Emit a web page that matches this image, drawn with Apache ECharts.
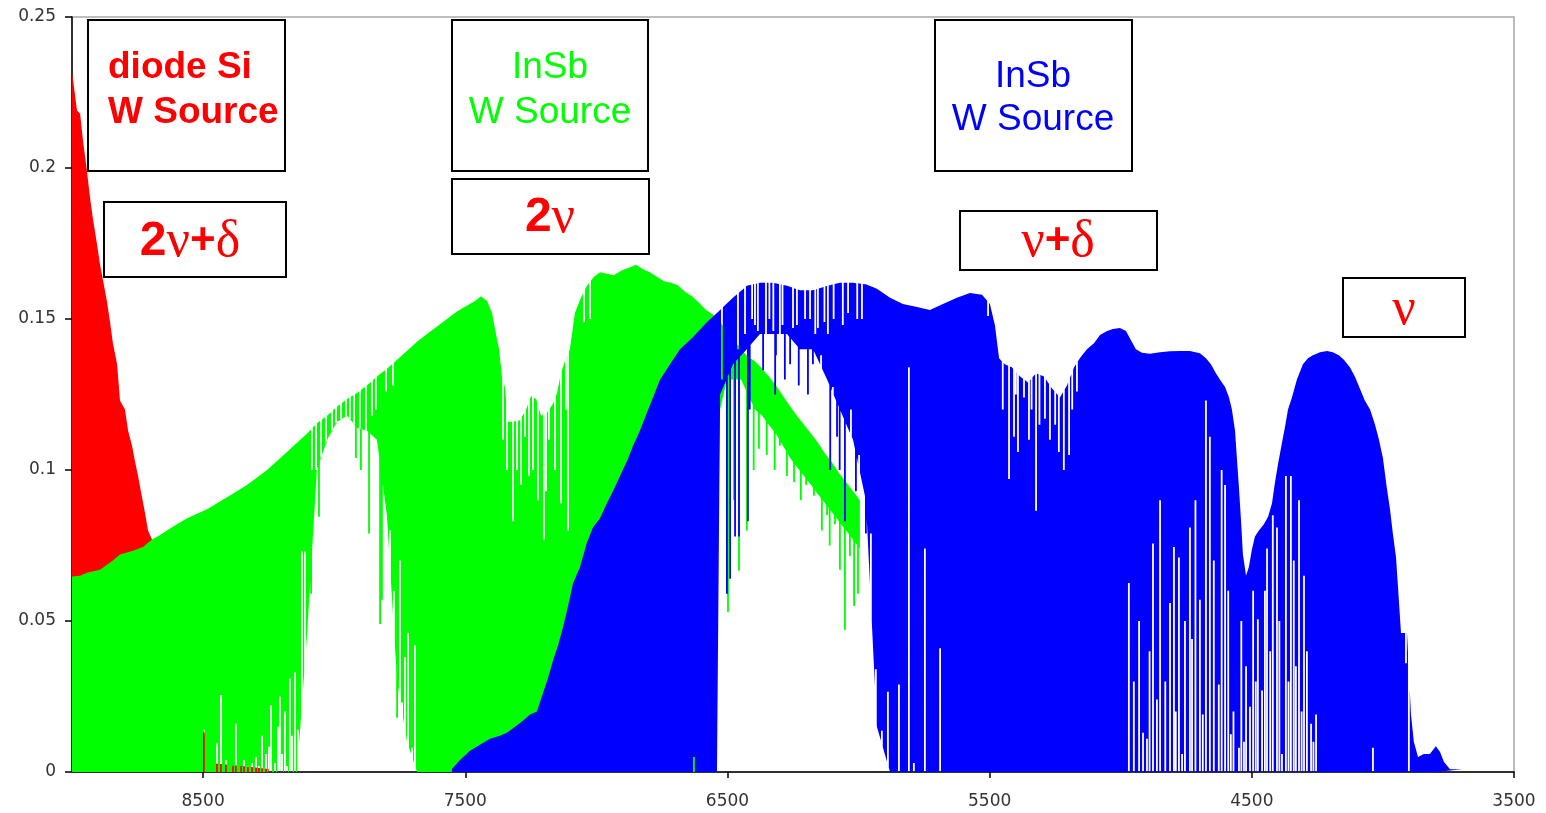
<!DOCTYPE html>
<html>
<head>
<meta charset="utf-8">
<title>Spectres InSb / diode Si</title>
<script src="https://cdn.jsdelivr.net/npm/echarts@6/dist/echarts.min.js"></script>
<style>
  html, body { margin: 0; padding: 0; background: #fff; }
  #chart { width: 1546px; height: 813px; }
</style>
</head>
<body>
<div id="chart"></div>
<script>
// Wavenumber axis ticks (cm-1) and intensity ticks
const xTickValues = [8500, 7500, 6500, 5500, 4500, 3500];
const yTickValues = [0, 0.05, 0.1, 0.15, 0.2, 0.25];

// ---- diode Si, W source (red) ----
const redWn = [9000, 8981, 8969, 8958, 8943, 8931, 8920, 8905, 8893, 8882, 8867, 8855, 8844, 8828, 8817, 8798, 8786, 8771, 8760, 8748, 8733, 8722, 8710, 8695, 8680, 8600, 8530, 8497, 8470, 8350, 8250];
const redTop = [0.232, 0.219, 0.218, 0.209, 0.199, 0.190, 0.183, 0.175, 0.168, 0.163, 0.156, 0.149, 0.142, 0.135, 0.123, 0.120, 0.113, 0.108, 0.103, 0.098, 0.091, 0.086, 0.080, 0.077, 0.004, 0.003, 0.004, 0.014, 0.003, 0.002, 0.001];

// ---- InSb, W source, first window (green) ----
const greenWn = [9000, 8969, 8943, 8893, 8844, 8817, 8767, 8729, 8695, 8664, 8638, 8600, 8561, 8523, 8485, 8447, 8409, 8371, 8333, 8294, 8256, 8218, 8180, 8142, 8104, 8066, 8027, 7989, 7951, 7913, 7875, 7837, 7799, 7760, 7722, 7684, 7646, 7608, 7570, 7532, 7493, 7463, 7440, 7417, 7398, 7383, 7371, 7360, 7349, 7337, 7318, 7291, 7268, 7249, 7230, 7211, 7188, 7165, 7150, 7135, 7120, 7101, 7082, 7059, 7036, 7009, 6986, 6960, 6933, 6906, 6876, 6849, 6822, 6796, 6769, 6742, 6715, 6689, 6662, 6635, 6609, 6582, 6555, 6528, 6502, 6475, 6448, 6422, 6395, 6368, 6342, 6315, 6288, 6261, 6235, 6208, 6181, 6155, 6128, 6101, 6075, 6048, 6021, 5995];
const greenTop = [0.0647, 0.065, 0.066, 0.067, 0.070, 0.072, 0.0733, 0.0745, 0.077, 0.0785, 0.080, 0.082, 0.084, 0.0855, 0.087, 0.089, 0.091, 0.093, 0.095, 0.0975, 0.100, 0.103, 0.106, 0.109, 0.112, 0.1155, 0.118, 0.121, 0.1235, 0.1255, 0.128, 0.131, 0.1335, 0.1365, 0.1395, 0.1425, 0.145, 0.1475, 0.150, 0.1525, 0.1545, 0.156, 0.1575, 0.156, 0.152, 0.145, 0.140, 0.131, 0.1275, 0.116, 0.116, 0.1165, 0.120, 0.1245, 0.1235, 0.118, 0.119, 0.122, 0.1255, 0.132, 0.136, 0.140, 0.152, 0.157, 0.161, 0.164, 0.1655, 0.165, 0.1645, 0.166, 0.167, 0.168, 0.1665, 0.1655, 0.164, 0.1625, 0.162, 0.1612, 0.159, 0.1575, 0.1555, 0.153, 0.1515, 0.149, 0.146, 0.143, 0.140, 0.1375, 0.136, 0.1335, 0.131, 0.128, 0.1245, 0.121, 0.118, 0.115, 0.112, 0.109, 0.1055, 0.1025, 0.099, 0.096, 0.093, 0.090];
const greenFloor = [0, 0, 0, 0, 0, 0, 0, 0, 0, 0, 0, 0, 0, 0, 0, 0, 0, 0, 0, 0, 0, 0, 0, 0, 0.045, 0.100, 0.110, 0.116, 0.118, 0.114, 0.113, 0.110, 0.085, 0.03, 0.01, 0, 0, 0, 0, 0, 0, 0, 0, 0, 0, 0, 0, 0, 0, 0, 0, 0, 0, 0, 0, 0, 0, 0, 0, 0, 0, 0, 0, 0, 0, 0, 0, 0, 0, 0, 0, 0, 0, 0, 0, 0, 0, 0, 0, 0, 0, 0, 0, 0.12, 0.13, 0.13, 0.13, 0.125, 0.12, 0.118, 0.115, 0.112, 0.108, 0.104, 0.101, 0.098, 0.095, 0.092, 0.089, 0.086, 0.083, 0.08, 0.077, 0.074];
// absorption lines cutting down from the top edge: [wavenumber, level]
const greenLines = [[8085, 0.100], [8069, 0.100], [8050, 0.092], [8031, 0.105], [8008, 0.110], [7993, 0.110], [7974, 0.112], [7955, 0.100], [7940, 0.115], [7924, 0.105], [7902, 0.102], [7879, 0.08], [7856, 0.118], [7841, 0.120], [7802, 0.126], [7776, 0.128], [7356, 0.110], [7341, 0.100], [7318, 0.083], [7303, 0.100], [7287, 0.095], [7272, 0.111], [7257, 0.098], [7242, 0.100], [7223, 0.090], [7200, 0.077], [7192, 0.093], [7181, 0.11], [7158, 0.100], [7135, 0.089], [7116, 0.120], [7108, 0.080], [7047, 0.149], [7024, 0.150]];
// narrow columns whose lower edge sits at another level: [wavenumber, level]
const greenGaps = [[8497, 0.014], [8447, 0.0095], [8432, 0.0255], [8413, 0.004], [8386, 0.002], [8375, 0.016], [8355, 0.002], [8344, 0.004], [8329, 0.002], [8313, 0.003], [8298, 0.005], [8287, 0.002], [8275, 0.012], [8260, 0.006], [8249, 0.0084], [8241, 0.022], [8226, 0.003], [8214, 0.015], [8207, 0.025], [8199, 0.006], [8188, 0.020], [8180, 0.002], [8169, 0.031], [8161, 0.012], [8149, 0.033], [8138, 0.014], [8123, 0.073], [8111, 0.073], [8088, 0.059], [8058, 0.0845], [7917, 0.104], [7898, 0.100], [7867, 0.079], [7825, 0.049], [7818, 0.057], [7787, 0.080], [7772, 0.06], [7760, 0.018], [7749, 0.07], [7741, 0.023], [7730, 0.038], [7718, 0.046], [7703, 0.008], [7692, 0.042], [6498, 0.053], [6475, 0.09], [6456, 0.0666], [6426, 0.08], [6400, 0.100], [6380, 0.107], [6350, 0.105], [6320, 0.100], [6300, 0.108], [6273, 0.098], [6246, 0.096], [6220, 0.090], [6200, 0.095], [6170, 0.0915], [6140, 0.080], [6120, 0.085], [6110, 0.075], [6090, 0.082], [6071, 0.067], [6052, 0.047], [6033, 0.0715], [6017, 0.055], [6002, 0.059]];

// ---- InSb, W source, second window (blue) ----
const blueWn = [7551, 7520, 7482, 7444, 7406, 7368, 7341, 7310, 7280, 7253, 7227, 7204, 7185, 7165, 7146, 7127, 7108, 7089, 7062, 7036, 7013, 6986, 6960, 6937, 6910, 6883, 6860, 6834, 6807, 6784, 6757, 6719, 6681, 6631, 6578, 6540, 6528, 6479, 6426, 6376, 6326, 6273, 6223, 6174, 6120, 6071, 6021, 5972, 5930, 5880, 5831, 5777, 5728, 5678, 5625, 5575, 5529, 5499, 5480, 5464, 5442, 5415, 5384, 5354, 5323, 5293, 5262, 5232, 5205, 5178, 5156, 5129, 5102, 5079, 5052, 5030, 5003, 4980, 4961, 4942, 4919, 4889, 4850, 4812, 4774, 4736, 4698, 4675, 4656, 4637, 4618, 4602, 4587, 4576, 4564, 4557, 4549, 4541, 4534, 4522, 4511, 4500, 4488, 4473, 4454, 4438, 4423, 4412, 4400, 4385, 4374, 4362, 4347, 4328, 4305, 4286, 4267, 4240, 4213, 4191, 4168, 4149, 4126, 4107, 4088, 4069, 4049, 4030, 4015, 4000, 3985, 3973, 3962, 3950, 3943, 3931, 3920, 3908, 3893, 3882, 3866, 3844, 3821, 3798, 3782, 3767, 3744, 3698];
const blueTop = [0.001, 0.004, 0.007, 0.009, 0.011, 0.012, 0.013, 0.015, 0.017, 0.019, 0.020, 0.026, 0.031, 0.037, 0.042, 0.048, 0.055, 0.0625, 0.068, 0.076, 0.081, 0.084, 0.089, 0.093, 0.098, 0.103, 0.108, 0.113, 0.119, 0.124, 0.130, 0.135, 0.140, 0.144, 0.149, 0.152, 0.153, 0.157, 0.161, 0.162, 0.162, 0.161, 0.1595, 0.1595, 0.161, 0.162, 0.162, 0.1615, 0.160, 0.157, 0.155, 0.154, 0.153, 0.155, 0.157, 0.1586, 0.158, 0.155, 0.148, 0.137, 0.135, 0.134, 0.131, 0.129, 0.132, 0.131, 0.127, 0.124, 0.128, 0.134, 0.137, 0.140, 0.142, 0.1447, 0.146, 0.1467, 0.147, 0.146, 0.143, 0.140, 0.1388, 0.1385, 0.139, 0.1393, 0.1394, 0.1394, 0.1387, 0.137, 0.135, 0.132, 0.1295, 0.1275, 0.124, 0.120, 0.113, 0.104, 0.094, 0.083, 0.072, 0.065, 0.068, 0.0735, 0.078, 0.080, 0.082, 0.0845, 0.089, 0.0957, 0.102, 0.109, 0.114, 0.120, 0.124, 0.130, 0.135, 0.137, 0.138, 0.139, 0.1394, 0.139, 0.138, 0.1365, 0.134, 0.131, 0.127, 0.123, 0.120, 0.115, 0.110, 0.104, 0.094, 0.087, 0.079, 0.071, 0.062, 0.046, 0.046, 0.046, 0.019, 0.010, 0.005, 0.006, 0.006, 0.0085, 0.0066, 0.0033, 0.0009, 0.0009];
const blueFloor = [0, 0, 0, 0, 0, 0, 0, 0, 0, 0, 0, 0, 0, 0, 0, 0, 0, 0, 0, 0, 0, 0, 0, 0, 0, 0, 0, 0, 0, 0, 0, 0, 0, 0, 0, 0, 0.125, 0.135, 0.14, 0.145, 0.145, 0.145, 0.14, 0.14, 0.13, 0.12, 0.11, 0.09, 0.015, 0, 0, 0, 0, 0, 0, 0, 0, 0, 0, 0, 0, 0, 0, 0, 0, 0, 0, 0, 0, 0, 0, 0, 0, 0, 0, 0, 0, 0, 0, 0, 0, 0, 0, 0, 0, 0, 0, 0, 0, 0, 0, 0, 0, 0, 0, 0, 0, 0, 0, 0, 0, 0, 0, 0, 0, 0, 0, 0, 0, 0, 0, 0, 0, 0, 0, 0, 0, 0, 0, 0, 0, 0, 0, 0, 0, 0, 0, 0, 0, 0, 0, 0, 0, 0, 0, 0, 0, 0, 0, 0, 0, 0, 0, 0];
const blueLines = [[6521, 0.13], [6460, 0.140], [6433, 0.145], [6406, 0.150], [6395, 0.148], [6384, 0.146], [6353, 0.142], [6340, 0.150], [6325, 0.146], [6300, 0.143], [6290, 0.148], [6250, 0.147], [6235, 0.148], [6204, 0.15], [6185, 0.150], [6165, 0.145], [6155, 0.147], [6130, 0.149], [6117, 0.145], [6095, 0.150], [6060, 0.148], [6040, 0.152], [6005, 0.150], [5987, 0.15], [5506, 0.151], [5450, 0.120], [5426, 0.097], [5407, 0.111], [5400, 0.125], [5392, 0.106], [5369, 0.124], [5350, 0.110], [5340, 0.120], [5323, 0.0865], [5310, 0.115], [5289, 0.117], [5270, 0.110], [5250, 0.115], [5236, 0.106], [5217, 0.100], [5197, 0.105], [5185, 0.120], [5167, 0.126], [3912, 0.036], [3901, 0]];
const blueGaps = [[6628, 0.005], [6502, 0.059], [6490, 0.064], [6471, 0.078], [6456, 0.078], [6422, 0.083], [6415, 0.120], [6364, 0.133], [6318, 0.125], [6315, 0.138], [6281, 0.130], [6261, 0.135], [6228, 0.128], [6193, 0.125], [6174, 0.135], [6143, 0.138], [6108, 0.100], [6098, 0.1275], [6082, 0.111], [6072, 0.100], [6052, 0.083], [6029, 0.12], [6010, 0.093], [5998, 0.105], [5972, 0.079], [5953, 0.079], [5934, 0.034], [5911, 0.0137], [5888, 0.0266], [5846, 0.029], [5808, 0.134], [5789, 0.003], [5747, 0.074], [5689, 0.041], [4969, 0.0626], [4950, 0.030], [4930, 0.050], [4915, 0.013], [4900, 0.011], [4890, 0.040], [4877, 0.0757], [4862, 0.024], [4850, 0.090], [4830, 0.030], [4812, 0.056], [4797, 0.0745], [4790, 0.020], [4778, 0.071], [4766, 0.006], [4755, 0.050], [4736, 0.081], [4728, 0.044], [4715, 0.090], [4698, 0.057], [4687, 0.019], [4675, 0.123], [4660, 0.111], [4645, 0.070], [4626, 0.029], [4615, 0.100], [4602, 0.095], [4590, 0.060], [4580, 0.0125], [4570, 0.020], [4549, 0.008], [4540, 0.050], [4530, 0.010], [4522, 0.035], [4507, 0.0216], [4495, 0.060], [4485, 0.030], [4477, 0.0506], [4461, 0.027], [4450, 0.060], [4442, 0.074], [4430, 0.040], [4420, 0.085], [4404, 0.081], [4395, 0.050], [4385, 0.006], [4370, 0.098], [4360, 0.030], [4351, 0.098], [4340, 0.070], [4332, 0.035], [4320, 0.09], [4310, 0.020], [4301, 0.065], [4290, 0.040], [4274, 0.016], [4265, 0.010], [4255, 0.019], [4038, 0.008]];

const RED = '#ff0000', GREEN = '#00ff00', BLUE = '#0000ff';

// One filled band per spectrum: the upper edge follows the samples' tops, the
// lower edge their floors; lines and gaps are narrow cuts into those edges.
function spectrumSeries(name, color, wn, top, floor, lines, gaps, z) {
  const rows = wn.map((w, i) => [w, floor ? floor[i] : 0, top[i]]);
  return {
    type: 'custom',
    name,
    z,
    silent: true,
    clip: true,
    coordinateSystem: 'cartesian2d',
    encode: { x: 0, y: [1, 2] },
    data: rows,
    renderItem(params, api) {
      if (params.dataIndex !== 0) return null;
      const X = w => api.coord([w, 0])[0];
      const Y = v => api.coord([wn[0], v])[1];
      const half = 0.9;
      // pixel vertices: x, y of the upper edge, y of the lower edge
      const P = rows.map(r => [X(r[0]), Y(r[2]), Y(r[1])]);
      const xMin = P[0][0], xMax = P[P.length - 1][0];
      const edgeY = (x, k) => {
        for (let i = 0; i < P.length - 1; i++) {
          if (x <= P[i + 1][0]) {
            const span = P[i + 1][0] - P[i][0] || 1;
            const t = Math.max(0, Math.min(1, (x - P[i][0]) / span));
            return P[i][k] + (P[i + 1][k] - P[i][k]) * t;
          }
        }
        return P[P.length - 1][k];
      };
      const edge = (k, cuts, other, clampFn) => {
        const ev = P.map(p => ({ x: p[0], pts: [[p[0], p[k]]] }));
        cuts.forEach(([w, v]) => {
          const x = X(w);
          if (x - half < xMin || x + half > xMax) return;
          const yv = clampFn(Y(v), edgeY(x, other));
          ev.push({ x, pts: [[x - half, edgeY(x - half, k)], [x - half, yv], [x + half, yv], [x + half, edgeY(x + half, k)]] });
        });
        ev.sort((a, b) => a.x - b.x);
        return ev.reduce((acc, e) => acc.concat(e.pts), []);
      };
      const upper = edge(1, lines, 2, (y, f) => Math.min(y, f));
      const lower = edge(2, gaps, 1, (y, t) => Math.max(y, t));
      return {
        type: 'polygon',
        shape: { points: upper.concat(lower.reverse()) },
        style: { fill: color }
      };
    }
  };
}

// Framed annotations
const SANS = '"Liberation Sans", Arial, sans-serif';
const SERIF = '"Liberation Serif", "Times New Roman", serif';
function box(x, y, w, h) {
  return { type: 'rect', z: 50, shape: { x, y, width: w, height: h },
    style: { fill: '#fff', stroke: '#000', lineWidth: 2 } };
}
function label(x, y, text, font, color, align) {
  return { type: 'text', z: 51, x, y,
    style: { text, font, fill: color, align: align || 'center', verticalAlign: 'middle',
             textAlign: align || 'center', textVerticalAlign: 'middle' } };
}
function richLabel(x, y, text) {
  return { type: 'text', z: 51, x, y,
    style: { text, align: 'center', verticalAlign: 'middle', textAlign: 'center', textVerticalAlign: 'middle',
      rich: {
        d: { font: 'bold 48px ' + SANS, fill: RED },
        p: { font: 'bold 44px ' + SANS, fill: RED },
        g: { font: '52px ' + SERIF, fill: RED }
      } } };
}

const chart = echarts.init(document.getElementById('chart'), null, { renderer: 'canvas' });
chart.setOption({
  animation: false,
  backgroundColor: '#fff',
  grid: { left: 72, right: 32, top: 17, bottom: 41, show: true, borderColor: '#a8a8a8', borderWidth: 1.5, backgroundColor: 'transparent' },
  xAxis: {
    type: 'value', min: 3500, max: 9000, inverse: true,
    axisLine: { show: true, onZero: false, lineStyle: { color: '#000', width: 1.5 } },
    axisTick: { show: true, customValues: xTickValues, length: 6, lineStyle: { color: '#000', width: 1.5 } },
    axisLabel: { customValues: xTickValues, color: '#333', fontSize: 17, fontFamily: 'DejaVu Sans', margin: 21,
      formatter: v => String(v) },
    splitLine: { show: false }
  },
  yAxis: {
    type: 'value', min: 0, max: 0.25, interval: 0.05,
    axisLine: { show: true, lineStyle: { color: '#000', width: 1.5 } },
    axisTick: { show: true, length: 7, lineStyle: { color: '#000', width: 1.5 } },
    axisLabel: { color: '#333', fontSize: 17, fontFamily: 'DejaVu Sans', margin: 16,
      formatter: v => yTickValues.includes(+v.toFixed(2)) ? String(+v.toFixed(2)) : '' },
    splitLine: { show: false }
  },
  series: [
    spectrumSeries('diode Si', RED, redWn, redTop, null, [], [], 2),
    spectrumSeries('InSb 1', GREEN, greenWn, greenTop, greenFloor, greenLines, greenGaps, 3),
    spectrumSeries('InSb 2', BLUE, blueWn, blueTop, blueFloor, blueLines, blueGaps, 4)
  ],
  graphic: [
    box(88, 20, 197, 151),
    label(108, 68, 'diode Si', 'bold 37px ' + SANS, RED, 'left'),
    label(108, 113, 'W Source', 'bold 37px ' + SANS, RED, 'left'),
    box(104, 202, 182, 75),
    richLabel(190, 242, '{d|2}{g|ν}{p|+}{g|δ}'),
    box(452, 20, 196, 151),
    label(550, 68, 'InSb', '37px ' + SANS, GREEN),
    label(550, 113, 'W Source', '37px ' + SANS, GREEN),
    box(452, 179, 197, 75),
    richLabel(550, 218, '{d|2}{g|ν}'),
    box(935, 20, 197, 151),
    label(1033, 77, 'InSb', '37px ' + SANS, BLUE),
    label(1033, 120, 'W Source', '37px ' + SANS, BLUE),
    box(960, 211, 197, 59),
    richLabel(1058, 242, '{g|ν}{p|+}{g|δ}'),
    box(1343, 278, 122, 59),
    richLabel(1404, 310, '{g|ν}')
  ]
});
</script>
</body>
</html>
